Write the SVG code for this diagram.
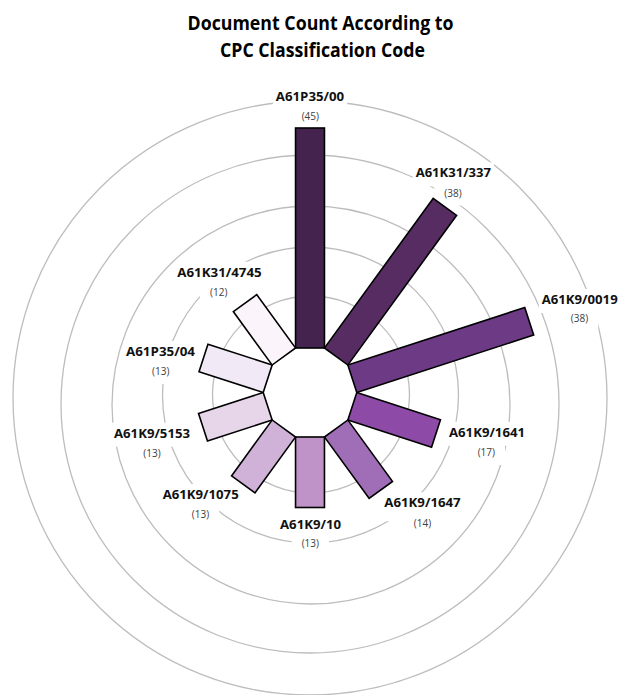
<svg xmlns="http://www.w3.org/2000/svg" width="619" height="695" viewBox="0 0 619 695">
  <style>
    .ring { fill: none; stroke: #bdbdbd; stroke-width: 1.3; }
    .mask { fill: #ffffff; stroke: none; }
    .bar { stroke: #000000; stroke-width: 1.6; stroke-linejoin: miter; }
    .name { font-family: "Open Sans", "Liberation Sans", sans-serif; font-weight: 700; font-size: 13px; fill: #111111; text-anchor: middle; }
    .count { font-family: "Open Sans", "Liberation Sans", sans-serif; font-size: 10px; fill: #404040; text-anchor: middle; }
    .title { font-family: "Open Sans", "Liberation Sans", sans-serif; font-weight: 700; font-size: 19.5px; fill: #000000; text-anchor: middle; }
  </style>
  <rect width="619" height="695" fill="#ffffff"/>

  <g id="title">
    <text class="title" x="320.5" y="29.5" textLength="266" lengthAdjust="spacingAndGlyphs">Document Count According to</text>
    <text class="title" x="322.5" y="56.8" textLength="205" lengthAdjust="spacingAndGlyphs">CPC Classification Code</text>
  </g>

  <g id="rings">
    <circle class="ring" cx="310" cy="398" r="297"/>
    <circle class="ring" cx="310" cy="404" r="249"/>
    <circle class="ring" cx="311" cy="405" r="199"/>
    <circle class="ring" cx="310.5" cy="395" r="148"/>
    <circle class="ring" cx="311" cy="394.5" r="98.5"/>
  </g>

  <g id="label-masks">
    <rect class="mask" x="272.9" y="86" width="74.3" height="24"/>
    <rect class="mask" x="291.6" y="108" width="37.4" height="21"/>
    <rect class="mask" x="412.7" y="162.3" width="81.3" height="24"/>
    <rect class="mask" x="434.3" y="184.5" width="37.4" height="21"/>
    <rect class="mask" x="538.7" y="289" width="82" height="24"/>
    <rect class="mask" x="560.8" y="310" width="37.4" height="21"/>
    <rect class="mask" x="446" y="421.7" width="82" height="24"/>
    <rect class="mask" x="467.6" y="444" width="37.4" height="21"/>
    <rect class="mask" x="381.4" y="492.3" width="82.3" height="29"/>
    <rect class="mask" x="403.8" y="514.7" width="37.4" height="21"/>
    <rect class="mask" x="277" y="513.7" width="67" height="23.5"/>
    <rect class="mask" x="291.6" y="535.3" width="37.4" height="21"/>
    <rect class="mask" x="159.7" y="484" width="82" height="24"/>
    <rect class="mask" x="181.8" y="506.3" width="37.4" height="21"/>
    <rect class="mask" x="111" y="422.7" width="82" height="24"/>
    <rect class="mask" x="133.3" y="445.3" width="37.4" height="21"/>
    <rect class="mask" x="123" y="341" width="75" height="24"/>
    <rect class="mask" x="142" y="363" width="37.4" height="21"/>
    <rect class="mask" x="174.3" y="261.7" width="90.3" height="24"/>
    <rect class="mask" x="200" y="283.7" width="37.4" height="21"/>
  </g>

  <g id="connectors"></g>

  <g id="node-A61P35-00">
    <rect class="bar" fill="#44234f" x="-14.46" y="-264.5" width="28.92" height="220" transform="translate(310 392.5) rotate(0)"/>
    <text class="name" x="310" y="101" textLength="68.3" lengthAdjust="spacingAndGlyphs">A61P35/00</text>
    <text class="count" x="310.3" y="120">(45)</text>
  </g>
  <g id="node-A61K31-337">
    <rect class="bar" fill="#562c62" x="-14.46" y="-229.5" width="28.92" height="185" transform="translate(310 392.5) rotate(36)"/>
    <text class="name" x="453.3" y="177.3" textLength="75.3" lengthAdjust="spacingAndGlyphs">A61K31/337</text>
    <text class="count" x="453" y="196.5">(38)</text>
  </g>
  <g id="node-A61K9-0019">
    <rect class="bar" fill="#6d3b86" x="-14.46" y="-230.5" width="28.92" height="186" transform="translate(310 392.5) rotate(72)"/>
    <text class="name" x="579.7" y="304" textLength="76" lengthAdjust="spacingAndGlyphs">A61K9/0019</text>
    <text class="count" x="579.5" y="322">(38)</text>
  </g>
  <g id="node-A61K9-1641">
    <rect class="bar" fill="#8d4aa6" x="-14.46" y="-132.5" width="28.92" height="88" transform="translate(310 392.5) rotate(108)"/>
    <text class="name" x="487" y="436.7" textLength="76" lengthAdjust="spacingAndGlyphs">A61K9/1641</text>
    <text class="count" x="486.3" y="456">(17)</text>
  </g>
  <g id="node-A61K9-1647">
    <rect class="bar" fill="#a06db7" x="-14.46" y="-120.5" width="28.92" height="76" transform="translate(310 392.5) rotate(144)"/>
    <text class="name" x="422.5" y="507.3" textLength="76.3" lengthAdjust="spacingAndGlyphs">A61K9/1647</text>
    <text class="count" x="422.5" y="526.7">(14)</text>
  </g>
  <g id="node-A61K9-10">
    <rect class="bar" fill="#bf92c8" x="-14.46" y="-115" width="28.92" height="70.5" transform="translate(310 392.5) rotate(180)"/>
    <text class="name" x="310.5" y="528.7" textLength="61" lengthAdjust="spacingAndGlyphs">A61K9/10</text>
    <text class="count" x="310.3" y="547.3">(13)</text>
  </g>
  <g id="node-A61K9-1075">
    <rect class="bar" fill="#d0b2d9" x="-14.46" y="-113.5" width="28.92" height="69" transform="translate(310 392.5) rotate(216)"/>
    <text class="name" x="200.7" y="499" textLength="76" lengthAdjust="spacingAndGlyphs">A61K9/1075</text>
    <text class="count" x="200.5" y="518.3">(13)</text>
  </g>
  <g id="node-A61K9-5153">
    <rect class="bar" fill="#e7d6ea" x="-14.46" y="-112.5" width="28.92" height="68" transform="translate(310 392.5) rotate(252)"/>
    <text class="name" x="152" y="437.7" textLength="76" lengthAdjust="spacingAndGlyphs">A61K9/5153</text>
    <text class="count" x="152" y="457.3">(13)</text>
  </g>
  <g id="node-A61P35-04">
    <rect class="bar" fill="#f1e9f5" x="-14.46" y="-112" width="28.92" height="67.5" transform="translate(310 392.5) rotate(288)"/>
    <text class="name" x="160.5" y="356" textLength="69" lengthAdjust="spacingAndGlyphs">A61P35/04</text>
    <text class="count" x="160.7" y="375">(13)</text>
  </g>
  <g id="node-A61K31-4745">
    <rect class="bar" fill="#fcf4fb" x="-14.46" y="-110.5" width="28.92" height="66" transform="translate(310 392.5) rotate(324)"/>
    <text class="name" x="219.5" y="276.7" textLength="84.3" lengthAdjust="spacingAndGlyphs">A61K31/4745</text>
    <text class="count" x="218.7" y="295.7">(12)</text>
  </g>
</svg>
